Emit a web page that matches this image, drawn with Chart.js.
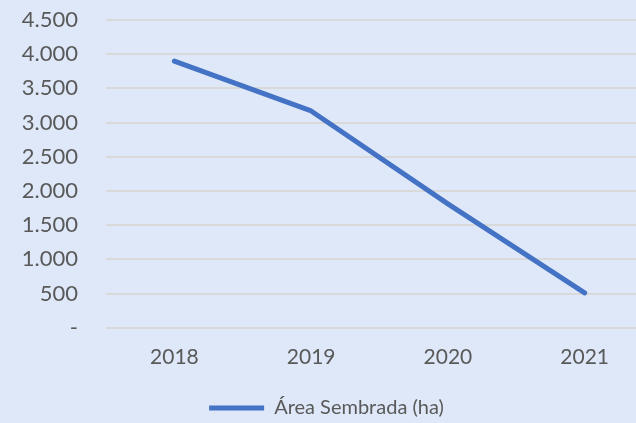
<!DOCTYPE html>
<html>
<head>
<meta charset="utf-8">
<script src="https://cdn.jsdelivr.net/npm/chart.js@4/dist/chart.umd.min.js"></script>
<style>
  html, body { margin: 0; padding: 0; overflow: hidden; background: #DEE8F8; width: 636px; height: 423px; }
  #wrap { width: 653px; height: 428px; position: absolute; left: 0; top: 0; }
</style>
</head>
<body>
<div id="wrap"><canvas id="c"></canvas></div>
<script>
const categories = ['2018', '2019', '2020', '2021'];
const areaSembrada = [3900, 3170, 1810, 510];
const seriesName = 'Área Sembrada (ha)';

const fmt = v => v === 0 ? '-' : v.toString().replace(/\B(?=(\d{3})+(?!\d))/g, '.');

const bg = {
  id: 'bg',
  beforeDraw(chart) {
    const ctx = chart.ctx;
    ctx.save();
    ctx.fillStyle = '#DEE8F8';
    ctx.fillRect(0, 0, chart.width, chart.height);
    ctx.restore();
  }
};

new Chart(document.getElementById('c'), {
  type: 'line',
  data: {
    labels: categories,
    datasets: [{
      label: seriesName,
      data: areaSembrada,
      borderColor: '#4472C4',
      backgroundColor: '#4472C4',
      borderWidth: 5,
      borderCapStyle: 'round',
      borderJoinStyle: 'round',
      pointRadius: 0,
      pointHoverRadius: 0,
      tension: 0
    }]
  },
  options: {
    responsive: true,
    maintainAspectRatio: false,
    animation: false,
    layout: { padding: 0 },
    scales: {
      x: {
        offset: true,
        grid: { display: false, drawTicks: false },
        border: { display: false },
        ticks: { color: '#595959', font: { family: 'Lato', size: 21 }, padding: 16.7 }
      },
      y: {
        min: 0,
        max: 4500,
        ticks: {
          stepSize: 500,
          color: '#595959',
          font: { family: 'Lato', size: 22 },
          padding: 28,
          callback: v => fmt(v)
        },
        grid: { color: '#D9D9D9', lineWidth: 2, drawTicks: false },
        border: { display: false },
        afterFit(scale) {
          scale.width = 106;
          scale.paddingTop = 20;
          scale.paddingBottom = 0;
        }
      }
    },
    plugins: {
      legend: {
        position: 'bottom',
        labels: {
          color: '#595959',
          font: { family: 'Lato', size: 20 },
          usePointStyle: true,
          pointStyle: 'line',
          pointStyleWidth: 55,
          padding: 11.7
        }
      },
      tooltip: { enabled: false }
    }
  },
  plugins: [bg]
});
</script>
</body>
</html>
